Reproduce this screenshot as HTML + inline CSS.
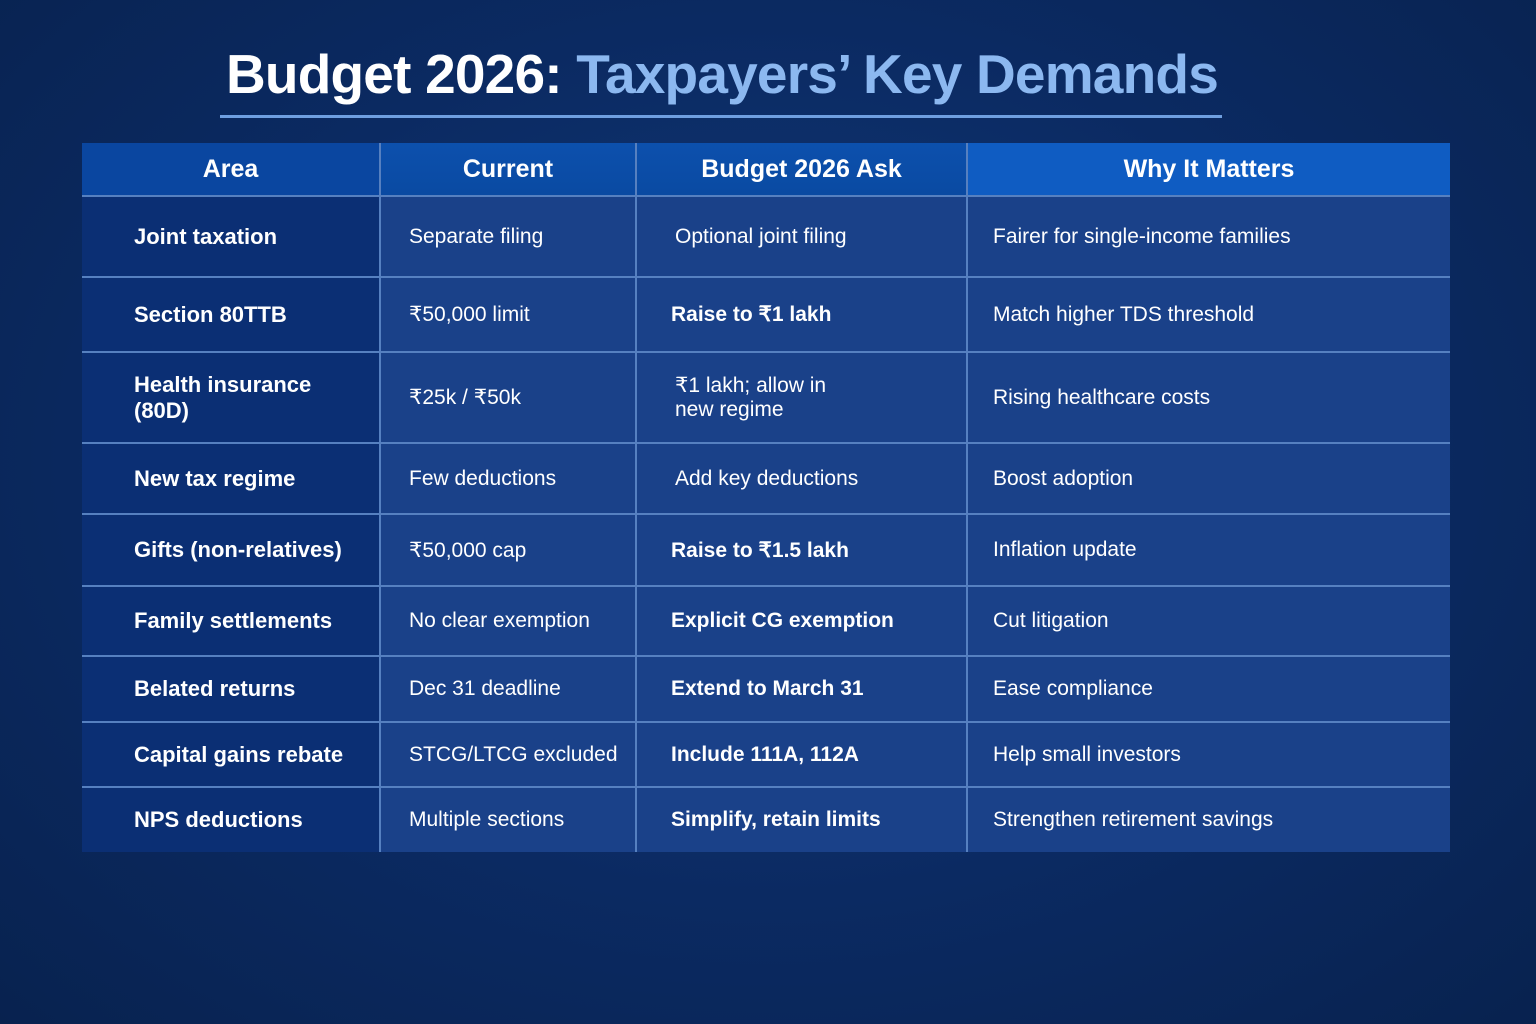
<!DOCTYPE html>
<html><head><meta charset="utf-8"><style>
body{margin:0;width:1536px;height:1024px;overflow:hidden;background:radial-gradient(ellipse at 50% 45%,#123a7a 0%,#0b2a62 55%,#08224f 100%);font-family:"Liberation Sans",sans-serif;color:#fff;position:relative}
h1{position:absolute;left:0;width:1444px;top:42px;margin:0;text-align:center;font-size:55px;font-weight:bold;letter-spacing:-0.8px}
h1 span{color:#8cb8f0}
.ul{position:absolute;left:220px;top:115px;width:1002px;height:3px;background:#6f9fe0}
table{position:absolute;left:82px;top:143px;width:1368px;border-collapse:collapse;table-layout:fixed}
td,th{border:2px solid #5680c0;font-size:21px;padding:0 0 0 28px;text-align:left;background:#1a4189}
td:nth-child(3){padding-left:38px}
td.b:nth-child(3){padding-left:34px}
td:nth-child(4){padding-left:25px}
th{background:linear-gradient(180deg,#0c50ad,#0a4aa2);height:52px;text-align:center;padding:0;font-size:25px}
tr>*:first-child{border-left:none;background:#0b2f74;font-weight:bold;padding-left:52px;font-size:22px}
tr>*:last-child{border-right:none}
tr>th:first-child{padding:0;background:#0a46a0;font-size:25px}
th:nth-child(3){padding:0}
th:last-child{background:#0f5cc2;padding:0}
tr:first-child th{border-top:none}
tr:last-child td{border-bottom:none}
td.b{font-weight:bold}
</style></head><body>
<h1>Budget 2026: <span>Taxpayers’ Key Demands</span></h1>
<div class="ul"></div>
<table>
<colgroup><col style="width:298px"><col style="width:256px"><col style="width:331px"><col style="width:483px"></colgroup>
<tr><th>Area</th><th>Current</th><th>Budget 2026 Ask</th><th>Why It Matters</th></tr>
<tr style="height:81px"><td>Joint taxation</td><td>Separate filing</td><td>Optional joint filing</td><td>Fairer for single-income families</td></tr>
<tr style="height:75px"><td>Section 80TTB</td><td>₹50,000 limit</td><td class="b">Raise to ₹1 lakh</td><td>Match higher TDS threshold</td></tr>
<tr style="height:91px"><td>Health insurance<br>(80D)</td><td>₹25k / ₹50k</td><td>₹1 lakh; allow in<br>new regime</td><td>Rising healthcare costs</td></tr>
<tr style="height:71px"><td>New tax regime</td><td>Few deductions</td><td>Add key deductions</td><td>Boost adoption</td></tr>
<tr style="height:72px"><td>Gifts (non-relatives)</td><td>₹50,000 cap</td><td class="b">Raise to ₹1.5 lakh</td><td>Inflation update</td></tr>
<tr style="height:70px"><td>Family settlements</td><td>No clear exemption</td><td class="b">Explicit CG exemption</td><td>Cut litigation</td></tr>
<tr style="height:66px"><td>Belated returns</td><td>Dec 31 deadline</td><td class="b">Extend to March 31</td><td>Ease compliance</td></tr>
<tr style="height:65px"><td>Capital gains rebate</td><td>STCG/LTCG excluded</td><td class="b">Include 111A, 112A</td><td>Help small investors</td></tr>
<tr style="height:65px"><td>NPS deductions</td><td>Multiple sections</td><td class="b">Simplify, retain limits</td><td>Strengthen retirement savings</td></tr>
</table>
</body></html>
